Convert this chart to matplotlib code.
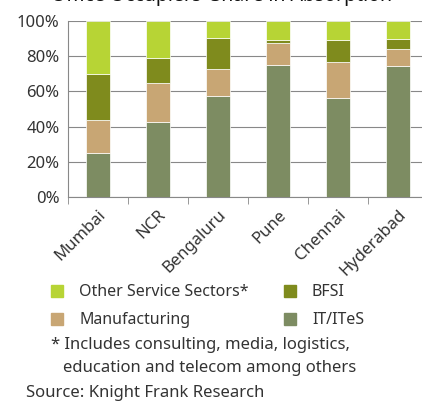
import numpy as np
import matplotlib.pyplot as plt
from matplotlib.patches import Patch

cities = ['Mumbai', 'NCR', 'Bengaluru', 'Pune', 'Chennai', 'Hyderabad']
it_ites = [25, 42.5, 57.5, 75, 56, 74.5]
manufacturing = [19, 22.5, 15, 12.5, 20.5, 9.5]
bfsi = [26, 14, 18, 1.5, 12.5, 6]
other = [30, 21, 9.5, 11, 11, 10]

c_it = '#7d8c62'
c_man = '#c8a674'
c_bfsi = '#7f8b1d'
c_other = '#b7d435'

plt.rcParams['font.family'] = ['Noto Sans', 'DejaVu Sans']

fig = plt.figure(figsize=(4.22, 4.01), dpi=100)
ax = fig.add_axes([68 / 422, 1 - 197 / 401, 360 / 422, 176 / 401])

x = np.arange(len(cities))
w = 0.4
b1 = np.array(it_ites)
b2 = b1 + np.array(manufacturing)
b3 = b2 + np.array(bfsi)
ax.bar(x, it_ites, w, color=c_it, edgecolor='white', linewidth=0.5, zorder=3)
ax.bar(x, manufacturing, w, bottom=b1, color=c_man, edgecolor='white', linewidth=0.5, zorder=3)
ax.bar(x, bfsi, w, bottom=b2, color=c_bfsi, edgecolor='white', linewidth=0.5, zorder=3)
ax.bar(x, other, w, bottom=b3, color=c_other, edgecolor='white', linewidth=0.5, zorder=3)

ax.set_xlim(-0.5, 5.5)
ax.set_ylim(0, 100)
ax.set_yticks(range(0, 101, 20))
ax.set_yticklabels([f'{v}%' for v in range(0, 101, 20)], fontsize=12, color='#333333')
ax.grid(axis='y', color='#888888', linewidth=0.8, zorder=0)

ax.set_xticks(np.arange(-0.5, 5.6, 1), minor=True)
ax.set_xticks(x)
ax.set_xticklabels(cities, rotation=45, ha='right', rotation_mode='anchor', fontsize=12, color='#333333')
ax.tick_params(axis='x', which='major', length=0, pad=7)
ax.tick_params(axis='x', which='minor', length=5, color='#888888', direction='out')
ax.tick_params(axis='y', length=0, pad=6)

for s in ['top', 'right']:
    ax.spines[s].set_visible(False)
for s in ['left', 'bottom']:
    ax.spines[s].set_color('#888888')

fig.text(222 / 422, 1 + 4 / 401, "Office Occupiers' Share in Absorption", ha='center', va='center',
         fontsize=14, fontweight='bold', color='#111111')

handles = [Patch(color=c_other), Patch(color=c_man), Patch(color=c_bfsi), Patch(color=c_it)]
labels = ['Other Service Sectors*', 'Manufacturing', 'BFSI', 'IT/ITeS']
fig.legend(handles, labels, ncol=2, loc='upper left', bbox_to_anchor=(37 / 422, 1 - 270 / 401),
           frameon=False, fontsize=11.5, handlelength=0.75, handleheight=0.75, handletextpad=1.0,
           columnspacing=2.2, labelspacing=0.75, labelcolor='#333333')

fig.text(51 / 422, 1 - 345 / 401, '* Includes consulting, media, logistics,', fontsize=12,
         va='center', color='#333333')
fig.text(63 / 422, 1 - 368 / 401, 'education and telecom among others', fontsize=12,
         va='center', color='#333333')
fig.text(26 / 422, 1 - 393 / 401, 'Source: Knight Frank Research', fontsize=12,
         va='center', color='#333333')

fig.savefig('out.png', dpi=100)
